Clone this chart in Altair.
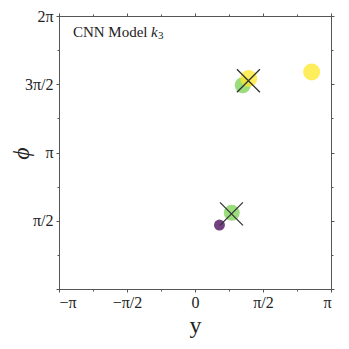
import altair as alt
import pandas as pd
import math

PI = math.pi

# circles
cx = [0.565, 0.849, 1.102, 1.241, 2.694]
cy = [1.471, 1.754, 4.690, 4.844, 4.996]
csize = [121, 256, 256, 289, 289]
ccolor = ["#440154", "#7ad151", "#7ad151", "#fde725", "#fde725"]

# crosses
xx = [0.842, 1.234]
xy = [1.729, 4.793]

# annotation
ann_x = [-2.82]
ann_y = [5.92]

x_major = [-PI, -PI / 2, 0, PI / 2, PI]
x_minor = [-3 * PI / 4, -PI / 4, PI / 4, 3 * PI / 4]
y_major = [0, PI / 2, PI, 3 * PI / 2, 2 * PI]
y_minor = [PI / 4, 3 * PI / 4, 5 * PI / 4, 7 * PI / 4]

FONT = "Liberation Serif"
AX = "#555555"

circles = pd.DataFrame({"x": cx, "y": cy, "s": csize, "c": ccolor})
crosses = pd.DataFrame({"x": xx, "y": xy})
ann = pd.DataFrame({"x": ann_x, "y": ann_y})

xs = alt.Scale(domain=[-PI, PI], nice=False, zero=False)
ys = alt.Scale(domain=[0, 2 * PI], nice=False, zero=False)

xlab = ("datum.value < -3 ? '−π' : datum.value < -1 ? '−π/2' : "
        "datum.value < 1 ? '0' : datum.value < 3 ? 'π/2' : 'π'")
ylab = ("datum.value < 0.5 ? '' : datum.value < 2 ? 'π/2' : "
        "datum.value < 4 ? 'π' : datum.value < 5 ? '3π/2' : '2π'")

common = dict(domainColor=AX, tickColor=AX, grid=False, labelFont=FONT,
              labelColor="#222222", labelFontSize=16, titleFont=FONT,
              titleColor="#222222", titleFontWeight="normal")

x_bottom = alt.Axis(orient="bottom", values=x_major, labelExpr=xlab, tickSize=3,
                    labelPadding=2, title="y", titleFontSize=24, titleX=136,
                    titleY=36, titleBaseline="middle", **common)
y_left = alt.Axis(orient="left", values=y_major, labelExpr=ylab, tickSize=3,
                  labelPadding=3, title="ϕ", titleFontSize=24, titleFontStyle="italic",
                  titleX=-38, titleY=137, titleAngle=-90, titleAlign="center",
                  titleBaseline="middle", **common)
x_bottom_minor = alt.Axis(orient="bottom", values=x_minor, labels=False, tickSize=2,
                          title=None, **common)
y_left_minor = alt.Axis(orient="left", values=y_minor, labels=False, tickSize=2,
                        title=None, **common)
x_top = alt.Axis(orient="top", values=x_major, labels=False, tickSize=3,
                 title=None, **common)
y_right = alt.Axis(orient="right", values=y_major, labels=False, tickSize=3,
                   title=None, **common)
x_top_minor = alt.Axis(orient="top", values=x_minor, labels=False, tickSize=2,
                       title=None, **common)
y_right_minor = alt.Axis(orient="right", values=y_minor, labels=False, tickSize=2,
                         title=None, **common)

cross_layer = alt.Chart(crosses).mark_point(
    shape="M-1,-1L1,1M-1,1L1,-1", filled=False, stroke="#333333",
    strokeWidth=1.3, opacity=1
).encode(
    x=alt.X("x:Q", scale=xs, axis=x_bottom_minor),
    y=alt.Y("y:Q", scale=ys, axis=y_left_minor),
    size=alt.value(529),
)

circle_layer = alt.Chart(circles).mark_point(
    shape="circle", filled=True, opacity=0.75, strokeWidth=0
).encode(
    x=alt.X("x:Q", scale=xs, axis=x_bottom),
    y=alt.Y("y:Q", scale=ys, axis=y_left),
    size=alt.Size("s:Q", scale=None, legend=None),
    color=alt.Color("c:N", scale=None, legend=None),
)

text1 = alt.Chart(ann).mark_text(
    text="CNN Model", font=FONT, fontSize=15, align="left", baseline="middle",
    color="#222222"
).encode(
    x=alt.X("x:Q", scale=xs, axis=x_top),
    y=alt.Y("y:Q", scale=ys, axis=y_right),
)

text2 = alt.Chart(ann).mark_text(
    text="k", font=FONT, fontSize=15, fontStyle="italic", align="left",
    baseline="middle", dx=78, color="#222222"
).encode(
    x=alt.X("x:Q", scale=xs, axis=x_top_minor),
    y=alt.Y("y:Q", scale=ys, axis=y_right_minor),
)

text3 = alt.Chart(ann).mark_text(
    text="3", font=FONT, fontSize=11, align="left", baseline="middle",
    dx=85, dy=4, color="#222222"
).encode(
    x=alt.X("x:Q", scale=xs, axis=None),
    y=alt.Y("y:Q", scale=ys, axis=None),
)

chart = alt.layer(circle_layer, cross_layer, text1, text2, text3).resolve_axis(
    x="independent", y="independent"
).properties(
    width=272, height=273, autosize="none",
    padding={"left": 51, "top": 8, "right": 10, "bottom": 52},
).configure_view(stroke=None)

chart.save("out.html", embed_options={"renderer": "svg", "actions": False})
